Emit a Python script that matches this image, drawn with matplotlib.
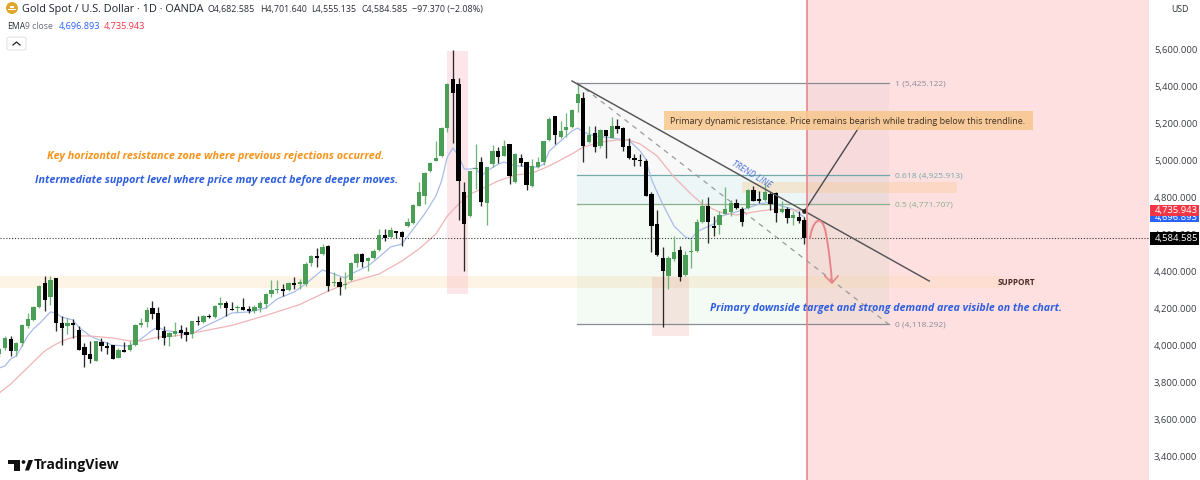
import matplotlib
matplotlib.use("Agg")
import matplotlib.pyplot as plt
from matplotlib.patches import Rectangle, PathPatch, Polygon, FancyBboxPatch, Circle
from matplotlib.path import Path

W, H = 1200, 481
opens = [3958,3991,4040,3975,4018,4110,4142,4213,4342,4267,4369,4126,4110,4126,4088,3996,3958,3921,4023,4002,
         4007,3937,3980,3980,4007,4115,4131,4207,4180,4083,4050,4067,4088,4077,4067,4137,4131,4164,4158,4223,
         4234,4202,4207,4213,4202,4191,4207,4229,4283,4304,4310,4304,4342,4337,4337,4450,4488,4499,4542,4342,
         4348,4331,4358,4450,4499,4461,4477,4521,4602,4591,4623,4618,4650,4667,4758,4813,4948,5002,5029,5180,
         5445,5418,4834,4704,4958,4996,4775,4985,5056,5029,5094,4888,5018,4996,4867,4969,4996,5115,5245,5131,
         5169,5185,5315,5342,5104,5153,5083,5169,5126,5191,5180,5083,5018,5007,5002,4823,4661,4477,4380,4472,
         4521,4385,4510,4515,4672,4758,4650,4656,4715,4726,4775,4742,4748,4845,4796,4791,4823,4829,4726,4742,
         4694,4699,4682.585]
highs = [3996,4056,4056,4023,4121,4180,4218,4331,4380,4380,4369,4164,4153,4148,4110,4018,4029,4029,4045,4023,
         4007,3991,4023,4029,4121,4153,4213,4245,4213,4110,4077,4131,4115,4104,4137,4164,4169,4175,4223,4267,
         4245,4240,4223,4261,4218,4223,4245,4288,4358,4358,4337,4348,4375,4364,4456,4494,4531,4553,4548,4402,
         4375,4402,4456,4504,4504,4483,4526,4634,4634,4645,4623,4623,4694,4769,4888,4942,4996,5110,5185,5423,
         5602,5450,4888,4948,5094,5023,4969,5088,5077,5115,5094,5045,5040,4996,5013,5023,5110,5240,5245,5218,
         5261,5283,5418,5375,5191,5191,5175,5169,5240,5229,5185,5126,5040,5040,5013,4834,4737,4537,4488,4596,
         4542,4515,4580,4688,4796,4807,4704,4731,4861,4791,4796,4753,4850,4867,4840,4878,4834,4834,4786,4753,
         4731,4731,4701.64]
lows = [3942,3980,3948,3948,4002,4099,4137,4207,4191,4223,4083,4007,4067,4045,3980,3888,3910,3921,3975,3958,
        3931,3937,3969,3975,4002,4104,4104,4148,4040,4007,4002,4056,4045,4029,4045,4115,4126,4153,4153,4207,
        4164,4196,4186,4196,4180,4180,4186,4207,4267,4288,4272,4299,4310,4310,4326,4434,4429,4494,4299,4326,
        4277,4310,4353,4429,4429,4407,4472,4515,4569,4586,4586,4542,4645,4661,4758,4769,4942,5002,5023,5158,
        5099,4683,4407,4699,4850,4758,4656,4969,4991,5029,4878,4883,4975,4845,4861,4964,4980,5110,5094,5126,
        5131,5180,5266,4996,5099,5050,5072,5018,5126,5153,5056,5013,4975,4975,4813,4510,4488,4104,4310,4461,
        4353,4380,4423,4510,4667,4558,4596,4607,4715,4704,4742,4650,4742,4786,4775,4786,4737,4672,4721,4667,
        4656,4667,4555.135]
closes = [3985,4045,3975,4018,4115,4148,4213,4326,4250,4358,4126,4099,4126,4115,3980,3953,3931,4029,4002,3991,
          3931,3980,3969,4007,4115,4126,4196,4175,4088,4045,4072,4083,4072,4061,4137,4131,4164,4158,4218,4234,
          4207,4196,4213,4196,4191,4213,4234,4283,4304,4310,4299,4342,4331,4348,4445,4488,4477,4537,4326,4348,
          4321,4337,4450,4499,4456,4477,4515,4602,4586,4629,4612,4591,4672,4764,4834,4937,4991,5018,5180,5418,
          5369,4894,4661,4948,4964,4780,4969,5056,5023,5083,4921,5040,4991,4872,4975,4996,5110,5229,5142,5164,
          5185,5277,5364,5083,5142,5077,5169,5137,5191,5175,5077,5018,5007,5002,4813,4650,4494,4407,4477,4510,
          4375,4494,4515,4672,4758,4672,4640,4710,4742,4775,4748,4672,4845,4786,4786,4834,4769,4721,4742,4694,
          4710,4677,4584.585]

ema_fast_idx = [0,1,2,3,4,5,6,7,8,9,10,11,13,14,16,18,20,22,23,25,27,28,29,30,31,34,36,39,41,44,47,49,52,54,57,58,60,61,62,65,67,69,71,73,75,77,78,79,80,81,82,83,84,85,86,88,89,90,91,92,94,95,96,97,98,100,101,102,103,105,107,109,111,113,114,115,116,117,119,121,122,123,124,126,127,128,130,132,134,136,138,140,142]
ema_fast = [3883,3894,3932,3948,4002,4056,4094,4121,4153,4186,4180,4158,4142,4104,4056,4029,4007,4002,4002,4040,4088,4104,4088,4083,4077,4067,4104,4148,4180,4186,4207,4256,4294,4337,4413,4402,4380,4369,4391,4434,4483,4537,4553,4634,4715,4813,4894,5023,5072,5029,4958,4958,4964,4921,4948,4985,4996,4985,4975,4975,4969,4969,4985,5056,5083,5137,5164,5180,5158,5137,5131,5121,5115,5056,5013,4904,4834,4769,4650,4591,4580,4618,4634,4661,4699,4710,4726,4748,4769,4780,4758,4742,4696.893]
ema_slow_idx = [0,2,6,8,10,12,14,16,20,23,25,28,31,34,35,41,47,53,58,62,67,71,74,77,79,81,83,85,88,91,94,97,101,103,106,109,111,113,116,119,122,124,127,130,134,137,140,142]
ema_slow = [3748,3796,3915,3975,4012,4040,4056,4056,4045,4029,4029,4050,4056,4072,4077,4113,4167,4226,4299,4348,4391,4461,4526,4607,4704,4769,4823,4850,4894,4926,4937,4975,5040,5077,5104,5115,5115,5094,5029,4915,4823,4769,4726,4710,4731,4742,4737,4735.943]

tick_prices = [5600,5400,5200,5000,4800,4600,4400,4200,4000,3800,3600,3400]
fib_prices = [5425.122,4925.913,4771.707,4118.292]
fib_labels = ["1 (5,425.122)","0.618 (4,925.913)","0.5 (4,771.707)","0 (4,118.292)"]
fib_colors = ["#8a8c94","#72a9a9","#8aaf8a","#8a8c94"]
fib_span = [101.9,156.9]
trend_idx = [101,164]
trend_px = [5434,4353]
last_price = 4584.585
ema_fast_last = 4696.893
ema_slow_last = 4735.943

X0, DX = -0.67, 5.67
P0, PS = 5877.3, 5.405
fig = plt.figure(figsize=(W/100,H/100),dpi=100,facecolor="white")
ax = fig.add_axes([0,0,1,1])
ax.set_xlim((0-X0)/DX,(W-X0)/DX)
ax.set_ylim(P0-PS*H,P0)
ax.axis("off")

def fx(x): return x/W
def fy(y): return 1-y/H
def T(x,y,s,**k):
    k.setdefault("family","Open Sans")
    k.setdefault("va","center")
    return fig.text(fx(x),fy(y),s,**k)

# sell zone
ax.add_patch(Rectangle((142.45,P0-PS*H),60.35,PS*H,fc="#fee0e1",ec="none",zorder=1))
ax.axvline(142.45,color="#e8868a",lw=1.2,zorder=6)

# support band
ax.add_patch(Rectangle((-1,4315),177.5,65,fc="#fbd9a5",alpha=.28,ec="none",zorder=1.5))
ax.add_patch(Rectangle((176,4315),7,65,fc="#fbd9b5",alpha=.2,ec="none",zorder=1.5))

# fib
f1,f2,f3,f4 = fib_prices
a,b = fib_span
ax.add_patch(Rectangle((a,f2),b-a,f1-f2,fc="#787b86",alpha=.05,ec="none",zorder=2))
ax.add_patch(Rectangle((a,f3),b-a,f2-f3,fc="#3f9fb0",alpha=.09,ec="none",zorder=2))
ax.add_patch(Rectangle((a,f4),b-a,f3-f4,fc="#4caf50",alpha=.06,ec="none",zorder=2))
for p,l,c in zip(fib_prices,fib_labels,fib_colors):
    ax.plot([a,b],[p,p],color=c,lw=.9,zorder=3)
    ax.text(b+1,p,l,color=c,fontsize=6.1,va="center",family="Open Sans",zorder=8)
ax.plot([a,b],[f1,f4],color="#9a9a9e",lw=.9,ls=(0,(4,4)),zorder=3)

# highlight boxes
ax.add_patch(Rectangle((78.95,4283),3.71,1313,fc="#f7a8b4",alpha=.28,ec="none",zorder=2.5))
ax.add_patch(Rectangle((115.1,4056),6.5,319,fc="#eda7a0",alpha=.25,ec="none",zorder=2.5))
ax.add_patch(Rectangle((130.98,4829),37.9,59,fc="#f9c98c",alpha=.35,ec="none",zorder=2.5))

# EMA
ax.plot(ema_fast_idx,ema_fast,color="#a8bcea",lw=.9,zorder=3.5)
ax.plot(ema_slow_idx,ema_slow,color="#f0b4b7",lw=.9,zorder=3.5)

# candles
for i,(o,h,l,c) in enumerate(zip(opens,highs,lows,closes)):
    up = c>=o
    col = "#4a9e55" if up else "#000000"
    wick = "#72b57a" if up else "#2a2a2a"
    ax.vlines(i,l,h,color=wick,lw=.95,zorder=4)
    ax.bar(i,max(abs(c-o),5),bottom=min(o,c),width=.76,color=col,lw=0,zorder=4.5)

# last price
ax.axhline(last_price,xmax=1149/W,color="#3a3a3a",lw=.8,ls=(0,(1,1.6)),zorder=3.6)

# trend + callout
ax.plot(trend_idx,trend_px,color="#555558",lw=1.05,zorder=5)
ax.plot([142,152],[4731,5202],color="#4a4a4c",lw=1,zorder=5)
ax.plot([142],[4731],"o",ms=2.4,color="#222",zorder=5)

# arrow
verts=[(142.97,4580),(143.3,4677),(145.1,4731),(145.8,4607),(146.3,4526),(146.7,4418),(146.85,4342)]
codes=[Path.MOVETO]+[Path.CURVE4]*6
ax.add_patch(PathPatch(Path(verts,codes),fc="none",ec="#e8838a",lw=1.4,zorder=6))
ax.plot([145.6,146.85,147.9],[4380,4342,4380],color="#e8838a",lw=1.2,zorder=6)

# callout box
fig.add_artist(Rectangle((fx(664),fy(131)),369/W,19/H,transform=fig.transFigure,fc="#f9c78d",ec="none",alpha=.85,zorder=7))
T(670,121.5,"Primary dynamic resistance. Price remains bearish while trading below this trendline.",fontsize=6.5,color="#3b3126",zorder=8)

# annotations
bi=dict(family="Open Sans",style="italic",weight="bold")
T(47,156,"Key horizontal resistance zone where previous rejections occurred.",fontsize=7.77,color="#f7931a",**bi)
T(35,181,"Intermediate support level where price may react before deeper moves.",fontsize=7.72,color="#2f5fe0",**bi)
T(710,309,"Primary downside target and strong demand area visible on the chart.",fontsize=7.7,color="#2f5fe0",**bi,zorder=8)
fig.text(fx(752),fy(174),"TREND LINE",rotation=-31,fontsize=6.2,color="#4a6fd8",ha="center",va="center",family="Open Sans",style="italic",rotation_mode="anchor")
T(998,283,"SUPPORT",fontsize=5.9,weight="bold",color="#4a2a2a",zorder=8)

# price axis
fig.add_artist(Rectangle((fx(1149),0),51/W,1,transform=fig.transFigure,fc="white",ec="none",zorder=3))
for p in tick_prices:
    y=(P0-p)/PS-1.3
    T(1154,y,f"{p:,.3f}",fontsize=6.8,color="#3a3d45",zorder=4)
T(1171,9,"USD",fontsize=6.3,color="#2a2e39")
fig.add_artist(Rectangle((fx(1150),fy(223)),49/W,11/H,transform=fig.transFigure,fc="#2962ff",ec="none",zorder=5))
T(1155,217.5,f"{ema_fast_last:,.3f}",fontsize=6.8,color="white",zorder=5.1)
fig.add_artist(Rectangle((fx(1150),fy(217)),49/W,11/H,transform=fig.transFigure,fc="#f23645",ec="none",zorder=5.2))
T(1155,211,f"{ema_slow_last:,.3f}",fontsize=6.8,color="white",zorder=5.3)
fig.add_artist(Rectangle((fx(1150),fy(245.5)),49/W,12.5/H,transform=fig.transFigure,fc="black",ec="none",zorder=5))
T(1155,239,f"{last_price:,.3f}",fontsize=6.8,color="white",zorder=6)

# header
fig.add_artist(Circle((12,H-9),6,transform=matplotlib.transforms.IdentityTransform(),fc="#e0a72e",ec="none"))
fig.add_artist(Rectangle((fx(8),fy(11)),8/W,1.4/H,transform=fig.transFigure,fc="white",ec="none",zorder=3))
fig.add_artist(Rectangle((fx(10),fy(8.5)),4/W,1.6/H,transform=fig.transFigure,fc="white",ec="none",zorder=3))
T(22,9.5,"Gold Spot / U.S. Dollar · 1D · OANDA",fontsize=7.8,color="#1f2430")
for x,s in [(208,"O4,682.585"),(260,"H4,701.640"),(311,"L4,555.135"),(361,"C4,584.585"),(412,"−97.370 (−2.08%)")]:
    T(x,9.5,s,fontsize=6.4,color="#2a2e39")
T(7,26.5,"EMA",fontsize=6.2,color="#2a2e39")
T(25,26.5,"9 close",fontsize=6.2,color="#6a6d78")
T(59,26.5,"4,696.893",fontsize=6.6,color="#2962ff")
T(104,26.5,"4,735.943",fontsize=6.6,color="#f23645")
fig.add_artist(FancyBboxPatch((fx(7),fy(51)),19/W,13/H,boxstyle="round,pad=0,rounding_size=0.003",transform=fig.transFigure,fc="white",ec="#e0e3eb",lw=.8))
fig.add_artist(plt.Line2D([fx(13),fx(16.5),fx(20)],[fy(46),fy(43),fy(46)],color="#222",lw=.9))

# logo
def poly(pts,c="#111"):
    fig.add_artist(Polygon([(fx(x),fy(y)) for x,y in pts],closed=True,transform=fig.transFigure,fc=c,ec="none"))
poly([(8,461),(20,461),(20,471.5),(14,471.5),(14,465),(8,465)])
fig.add_artist(Circle((23.5,H-463),1.9,transform=matplotlib.transforms.IdentityTransform(),fc="#111",ec="none"))
poly([(25,471.5),(28.5,461),(33,461),(29,471.5)])
T(34,465.5,"TradingView",fontsize=10.1,weight="bold",color="#111")
fig.savefig("out.png",dpi=100)
